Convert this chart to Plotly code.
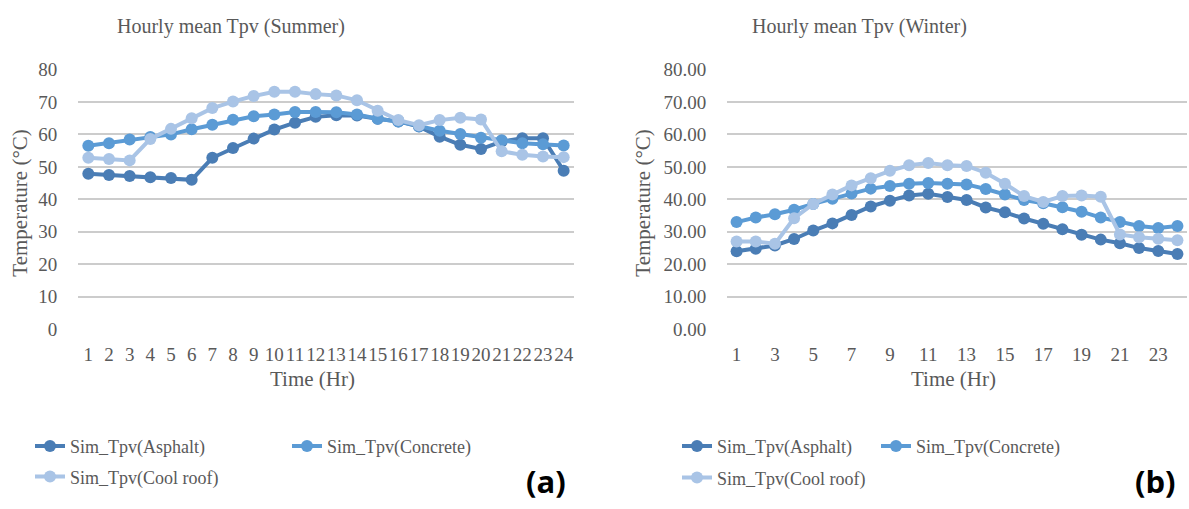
import plotly.graph_objects as go

hours = list(range(1, 25))

summer_asphalt = [47.9, 47.5, 47.2, 46.8, 46.6, 46.0, 52.8, 55.8, 58.7, 61.5, 63.6, 65.4,
                  65.9, 65.8, 64.8, 64.0, 62.4, 59.3, 56.8, 55.5, 57.8, 58.8, 58.8, 48.8]
summer_concrete = [56.5, 57.3, 58.4, 59.2, 60.0, 61.6, 63.0, 64.5, 65.6, 66.1, 66.9, 66.9,
                   66.8, 66.1, 64.8, 64.0, 62.5, 61.1, 60.1, 59.0, 58.2, 57.3, 57.0, 56.6]
summer_cool = [52.8, 52.4, 52.0, 58.6, 61.7, 65.0, 68.1, 70.1, 71.8, 73.1, 73.1, 72.4,
               72.0, 70.5, 67.3, 64.4, 62.8, 64.4, 65.1, 64.6, 54.8, 53.7, 53.2, 53.0]

winter_asphalt = [24.0, 24.8, 25.8, 27.8, 30.4, 32.6, 35.2, 37.8, 39.6, 41.2, 41.7, 40.7,
                  39.8, 37.5, 36.0, 34.1, 32.5, 30.8, 29.1, 27.6, 26.5, 25.0, 24.1, 23.2]
winter_concrete = [33.0, 34.4, 35.4, 36.8, 38.6, 40.2, 41.8, 43.3, 44.1, 44.8, 45.0, 44.8,
                   44.6, 43.2, 41.5, 39.8, 38.8, 37.6, 36.2, 34.4, 33.0, 31.8, 31.2, 31.8]
winter_cool = [27.0, 27.0, 26.3, 34.2, 38.6, 41.5, 44.3, 46.5, 48.8, 50.5, 51.2, 50.5,
               50.3, 48.2, 44.8, 41.0, 39.2, 41.0, 41.2, 40.8, 29.2, 28.3, 27.9, 27.4]

series_names = ["Sim_Tpv(Asphalt)", "Sim_Tpv(Concrete)", "Sim_Tpv(Cool roof)"]
colors = ["#4a7db5", "#5b9bd5", "#a9c4e6"]

summer_yticks = [0, 10, 20, 30, 40, 50, 60, 70, 80]
summer_ylabels = ["0", "10", "20", "30", "40", "50", "60", "70", "80"]
winter_yticks = [0, 10, 20, 30, 40, 50, 60, 70, 80]
winter_ylabels = ["0.00", "10.00", "20.00", "30.00", "40.00", "50.00", "60.00", "70.00", "80.00"]
summer_xticks = hours
winter_xticks = [1, 3, 5, 7, 9, 11, 13, 15, 17, 19, 21, 23]

W, H = 1189, 509
FONT = "Liberation Serif"
GRAY = "#595959"

fig = go.Figure()

summer = [summer_asphalt, summer_concrete, summer_cool]
winter = [winter_asphalt, winter_concrete, winter_cool]
legend_ids = ["legend", "legend2", "legend3", "legend4", "legend5", "legend6"]

for i in range(3):
    fig.add_trace(go.Scatter(
        x=hours, y=summer[i], mode="lines+markers", name=series_names[i],
        line=dict(color=colors[i], width=4), marker=dict(color=colors[i], size=12),
        xaxis="x", yaxis="y", legend=legend_ids[i]))
for i in range(3):
    fig.add_trace(go.Scatter(
        x=hours, y=winter[i], mode="lines+markers", name=series_names[i],
        line=dict(color=colors[i], width=4), marker=dict(color=colors[i], size=12),
        xaxis="x2", yaxis="y2", legend=legend_ids[3 + i]))

def px_x(v):
    return v / W

def px_y(v):
    return 1 - v / H

ydom = [px_y(333), px_y(62)]

axis_common = dict(
    showline=False, zeroline=False,
    tickfont=dict(family=FONT, size=19, color=GRAY),
    ticks="outside", tickcolor="rgba(0,0,0,0)", tickangle=0,
    fixedrange=True,
)

layout = dict(
    width=W, height=H,
    margin=dict(l=0, r=0, t=0, b=0),
    paper_bgcolor="white", plot_bgcolor="white",
    font=dict(family=FONT, size=16, color=GRAY),
    xaxis=dict(domain=[px_x(78), px_x(574)], range=[0.5, 24.5], tickmode="array",
               tickvals=summer_xticks, ticktext=[str(v) for v in summer_xticks],
               showgrid=False, ticklen=8, anchor="y", **axis_common),
    yaxis=dict(domain=ydom, range=[0, 80], tickmode="array", tickvals=summer_yticks,
               ticktext=summer_ylabels, showgrid=True, gridcolor="#cccccc", gridwidth=2,
               ticklen=16, anchor="x", **axis_common),
    xaxis2=dict(domain=[px_x(727), px_x(1187)], range=[0.5, 24.5], tickmode="array",
                tickvals=winter_xticks, ticktext=[str(v) for v in winter_xticks],
                showgrid=False, ticklen=8, anchor="y2", **axis_common),
    yaxis2=dict(domain=ydom, range=[0, 80], tickmode="array", tickvals=winter_yticks,
                ticktext=winter_ylabels, showgrid=True, gridcolor="#cccccc", gridwidth=2,
                ticklen=16, anchor="x2", **axis_common),
    showlegend=True,
)

legend_pos = [(30, 455), (287, 455), (30, 487), (677, 455), (876, 455), (677, 488)]
for lid, (lx, ly) in zip(legend_ids, legend_pos):
    layout[lid] = dict(x=px_x(lx), y=px_y(ly), xanchor="left", yanchor="middle",
                       bgcolor="rgba(0,0,0,0)", font=dict(family=FONT, size=18, color=GRAY),
                       orientation="h")

fig.update_layout(**layout)

annotations = [
    dict(text="Hourly mean Tpv (Summer)", x=px_x(231), y=px_y(17), font=dict(size=20)),
    dict(text="Hourly mean Tpv (Winter)", x=px_x(859), y=px_y(17), font=dict(size=20)),
    dict(text="Time (Hr)", x=px_x(312), y=px_y(385), font=dict(size=21)),
    dict(text="Time (Hr)", x=px_x(953), y=px_y(385), font=dict(size=21)),
    dict(text="Temperature (°C)", x=px_x(20), y=px_y(202), font=dict(size=21), textangle=-90),
    dict(text="Temperature (°C)", x=px_x(643), y=px_y(202), font=dict(size=21), textangle=-90),
]
for a in annotations:
    fig.add_annotation(xref="paper", yref="paper", showarrow=False,
                       xanchor="center", yanchor="middle",
                       font=dict(family=FONT, size=a["font"]["size"], color=GRAY),
                       text=a["text"], x=a["x"], y=a["y"], textangle=a.get("textangle", 0))

for lab, cx in [("(a)", 546), ("(b)", 1155)]:
    fig.add_annotation(xref="paper", yref="paper", showarrow=False, xanchor="center",
                       yanchor="middle", x=px_x(cx), y=px_y(491), text="<b>" + lab + "</b>",
                       font=dict(family="Open Sans", size=31, color="#000000"))

fig.write_html("out.html")
